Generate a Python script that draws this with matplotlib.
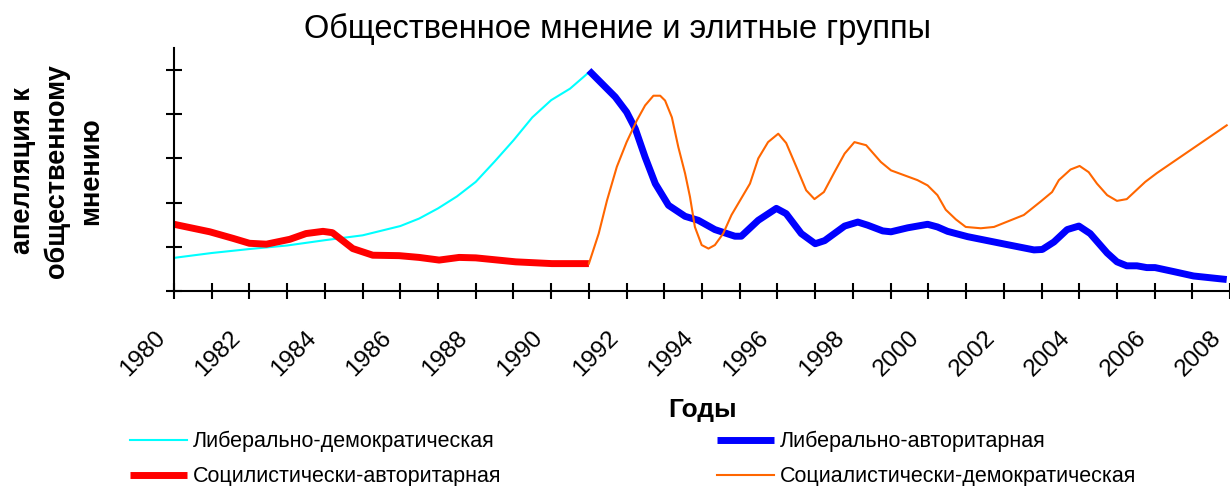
import numpy as np
import matplotlib
matplotlib.use("Agg")
import matplotlib.pyplot as plt
import matplotlib.transforms as mtransforms
from matplotlib.ticker import FixedLocator

plt.rcParams['font.family'] = ['Liberation Sans', 'DejaVu Sans']

# ---- data ----
lib_dem_years = [1980.0, 1981.0, 1982.0, 1983.0, 1984.0, 1985.0, 1986.0, 1986.5, 1987.0,
                 1987.5, 1988.0, 1988.5, 1989.0, 1989.5, 1990.0, 1990.5, 1991.0]
lib_dem_vals = [0.75, 0.86, 0.95, 1.03, 1.15, 1.26, 1.47, 1.64, 1.87,
                2.14, 2.47, 2.93, 3.41, 3.93, 4.32, 4.58, 4.95]

soc_auth_years = [1980.0, 1980.95, 1981.57, 1982.0, 1982.45, 1983.07, 1983.5, 1983.95,
                  1984.2, 1984.74, 1985.27, 1985.97, 1986.5, 1987.03, 1987.56, 1988.0,
                  1989.06, 1990.02, 1991.0]
soc_auth_vals = [1.51, 1.34, 1.19, 1.08, 1.06, 1.17, 1.30, 1.35,
                 1.32, 0.96, 0.81, 0.80, 0.76, 0.70, 0.76, 0.75,
                 0.66, 0.62, 0.62]

lib_auth_years = [1991.0, 1991.7, 1992.0, 1992.23, 1992.49, 1992.76, 1993.11, 1993.55,
                  1993.9, 1994.34, 1994.87, 1995.04, 1995.49, 1995.97, 1996.23, 1996.63,
                  1997.0, 1997.25, 1997.78, 1998.13, 1998.39, 1998.79, 1999.01, 1999.45,
                  1999.98, 2000.24, 2000.51, 2000.73, 2001.04, 2002.09, 2002.8, 2003.02,
                  2003.33, 2003.68, 2003.99, 2004.29, 2004.74, 2005.0, 2005.26, 2005.53,
                  2005.79, 2006.01, 2006.5, 2007.03, 2007.91]
lib_auth_vals = [4.99, 4.39, 4.05, 3.67, 3.03, 2.43, 1.94, 1.69,
                 1.60, 1.39, 1.24, 1.24, 1.60, 1.87, 1.75, 1.30,
                 1.07, 1.14, 1.47, 1.56, 1.49, 1.36, 1.34, 1.43,
                 1.51, 1.45, 1.35, 1.30, 1.23, 1.05, 0.93, 0.94,
                 1.11, 1.39, 1.47, 1.30, 0.86, 0.66, 0.57, 0.57,
                 0.53, 0.53, 0.44, 0.34, 0.26]

soc_dem_years = [1991.0, 1991.26, 1991.48, 1991.74, 1992.0, 1992.27, 1992.49, 1992.71,
                 1992.89, 1993.02, 1993.2, 1993.37, 1993.55, 1993.68, 1993.81, 1993.99,
                 1994.17, 1994.34, 1994.56, 1994.78, 1995.27, 1995.49, 1995.75, 1996.02,
                 1996.23, 1996.5, 1996.76, 1996.98, 1997.23, 1997.51, 1997.78, 1998.04,
                 1998.35, 1998.74, 1999.01, 1999.71, 1999.98, 2000.24, 2000.46, 2000.73,
                 2000.99, 2001.39, 2001.74, 2002.53, 2002.97, 2003.28, 2003.46, 2003.77,
                 2004.01, 2004.25, 2004.47, 2004.74, 2005.0, 2005.26, 2005.75, 2006.06,
                 2007.91]
soc_dem_vals = [0.62, 1.30, 2.05, 2.81, 3.37, 3.86, 4.20, 4.42,
                4.42, 4.31, 3.93, 3.26, 2.66, 2.13, 1.45, 1.04,
                0.96, 1.04, 1.30, 1.72, 2.43, 3.00, 3.37, 3.56,
                3.35, 2.81, 2.28, 2.08, 2.24, 2.69, 3.11, 3.37,
                3.30, 2.92, 2.73, 2.51, 2.39, 2.17, 1.84, 1.62,
                1.45, 1.42, 1.45, 1.72, 2.02, 2.24, 2.51, 2.75,
                2.83, 2.69, 2.43, 2.17, 2.04, 2.08, 2.47, 2.67,
                3.75]

tick_years = list(range(1980, 2009))
tick_labels = [str(y) if y % 2 == 0 else "" for y in tick_years]

title = "Общественное мнение и элитные группы"
ylabel = "апелляция к\nобщественному\nмнению"
xlabel = "Годы"

W, H = 1230, 486
fig = plt.figure(figsize=(W / 100, H / 100), dpi=100)
ax = fig.add_axes([174 / W, 1 - 291 / H, (1232 - 174) / W, (291 - 48) / H])

l1, = ax.plot(lib_dem_years, lib_dem_vals, color='#00FFFF', lw=1.5,
              label="Либерально-демократическая")
l2, = ax.plot(soc_auth_years, soc_auth_vals, color='#FF0000', lw=5,
              label="Социлистически-авторитарная", solid_capstyle='butt')
l3, = ax.plot(lib_auth_years, lib_auth_vals, color='#0000FF', lw=5,
              label="Либерально-авторитарная", solid_capstyle='butt')
l4, = ax.plot(soc_dem_years, soc_dem_vals, color='#FF6600', lw=1.5,
              label="Социалистически-демократическая")

ax.set_xlim(1980, 2008.05)
ax.set_ylim(0, 5.5)

for s in ['top', 'right']:
    ax.spines[s].set_visible(False)
for s in ['left', 'bottom']:
    ax.spines[s].set_linewidth(1.5)

ax.yaxis.set_major_locator(FixedLocator([0, 1, 2, 3, 4, 5]))
ax.set_yticklabels([])
ax.xaxis.set_major_locator(FixedLocator(tick_years))
ax.set_xticklabels(tick_labels, rotation=45, ha='right', va='center',
                   rotation_mode='anchor', fontsize=17.5)
ax.tick_params(axis='both', direction='inout', length=12, width=1.5)
ax.tick_params(axis='x', pad=16)

# nudge year labels a bit left and down, like the original
shift = mtransforms.ScaledTranslation(-0.12, -0.13, fig.dpi_scale_trans)
for lab in ax.get_xticklabels():
    lab.set_transform(lab.get_transform() + shift)

fig.text(617 / W, 1 - 29 / H, title, ha='center', va='center', fontsize=23.5)
fig.text(57 / W, 1 - 171 / H, ylabel, ha='center', va='center', rotation=90,
         multialignment='center', fontsize=19.5, fontweight='bold', linespacing=1.4)
fig.text(703 / W, 1 - 410 / H, xlabel, ha='center', va='center',
         fontsize=19, fontweight='bold')

leg_kw = dict(loc='center left', frameon=False, fontsize=15.5, handlelength=2.65,
              handletextpad=0.25, labelspacing=0.66, borderpad=0, borderaxespad=0)
leg1 = fig.legend(handles=[l1, l2], bbox_to_anchor=(130 / W, 1 - 459 / H), **leg_kw)
leg2 = fig.legend(handles=[l3, l4], bbox_to_anchor=(717 / W, 1 - 459 / H), **leg_kw)

fig.savefig("out.png", dpi=100)
